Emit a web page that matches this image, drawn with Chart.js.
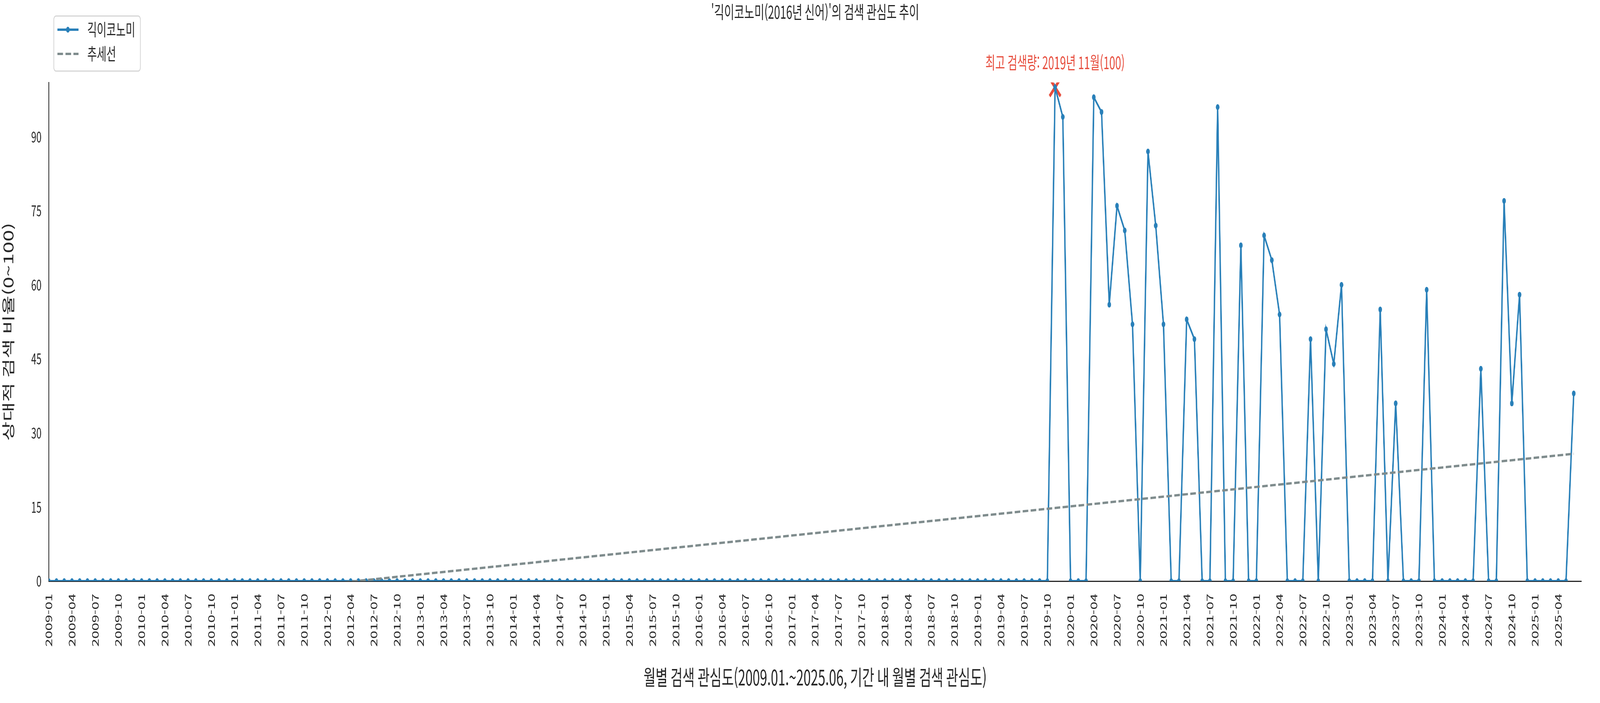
<!DOCTYPE html>
<html lang="ko">
<head>
<meta charset="utf-8">
<script src="https://cdn.jsdelivr.net/npm/chart.js@4.4.1/dist/chart.umd.min.js"></script>
<style>
  html, body { margin: 0; padding: 0; background: #fff; overflow: hidden; }
  #wrap { width: 6600px; height: 1800px; transform-origin: 0 0; }
</style>
</head>
<body>
<div id="wrap"><canvas id="chart" width="6600" height="1800"></canvas></div>
<script>
// Monthly relative search interest, 2009-01 .. 2025-06 (one row per year)
const interest = [
  0, 0, 0, 0, 0, 0, 0, 0, 0, 0, 0, 0,        // 2009
  0, 0, 0, 0, 0, 0, 0, 0, 0, 0, 0, 0,        // 2010
  0, 0, 0, 0, 0, 0, 0, 0, 0, 0, 0, 0,        // 2011
  0, 0, 0, 0, 0, 0, 0, 0, 0, 0, 0, 0,        // 2012
  0, 0, 0, 0, 0, 0, 0, 0, 0, 0, 0, 0,        // 2013
  0, 0, 0, 0, 0, 0, 0, 0, 0, 0, 0, 0,        // 2014
  0, 0, 0, 0, 0, 0, 0, 0, 0, 0, 0, 0,        // 2015
  0, 0, 0, 0, 0, 0, 0, 0, 0, 0, 0, 0,        // 2016
  0, 0, 0, 0, 0, 0, 0, 0, 0, 0, 0, 0,        // 2017
  0, 0, 0, 0, 0, 0, 0, 0, 0, 0, 0, 0,        // 2018
  0, 0, 0, 0, 0, 0, 0, 0, 0, 0, 100, 94,     // 2019
  0, 0, 0, 98, 95, 56, 76, 71, 52, 0, 87, 72, // 2020
  52, 0, 0, 53, 49, 0, 0, 96, 0, 0, 68, 0,   // 2021
  0, 70, 65, 54, 0, 0, 0, 49, 0, 51, 44, 60, // 2022
  0, 0, 0, 0, 55, 0, 36, 0, 0, 0, 59, 0,     // 2023
  0, 0, 0, 0, 0, 43, 0, 0, 77, 36, 58, 0,    // 2024
  0, 0, 0, 0, 0, 38                          // 2025
];

// trend line ends (value at first month, value at last month)
const trendEnds = [-6.5, 25.8];

const seriesNames = ['긱이코노미', '추세선'];
const chartTitle = "'긱이코노미(2016년 신어)'의 검색 관심도 추이";
const xTitle = '월별 검색 관심도(2009.01.~2025.06, 기간 내 월별 검색 관심도)';
const yTitle = '상대적 검색 비율(0~100)';
const yTickStep = 15;
const xTickStep = 3;

// month labels
const months = [];
for (let i = 0; i < interest.length; i++) {
    const y = 2009 + Math.floor(i / 12);
    const m = (i % 12) + 1;
    months.push(y + '-' + String(m).padStart(2, '0'));
}

const peakIdx = interest.indexOf(Math.max(...interest));
const peakLabel = (() => {
    const [yy, mm] = months[peakIdx].split('-');
    return `최고 검색량: ${yy}년 ${parseInt(mm)}월(${interest[peakIdx]})`;
})();

const BLUE = '#2980b9';
const GREY = '#7f8c8d';
const RED = '#e74c3c';
const TEXT = '#262626';
const FONT = "'Noto Sans CJK KR', 'Noto Sans', sans-serif";

// stretch the 6600x1800 drawing over the whole window
const sx = window.innerWidth / 6600, sy = window.innerHeight / 1800;
document.getElementById('wrap').style.transform = 'scale(' + sx + ',' + sy + ')';

Chart.defaults.font.family = FONT;
Chart.defaults.color = TEXT;

// Title, legend box and peak annotation
const extras = {
    id: 'extras',
    afterDraw(chart) {
        const ctx = chart.ctx;
        const area = chart.chartArea;
        const xs = chart.scales.x, ys = chart.scales.y;
        ctx.save();

        // title over the plot area
        ctx.fillStyle = TEXT;
        ctx.font = '45px ' + FONT;
        ctx.textAlign = 'center';
        ctx.textBaseline = 'middle';
        ctx.fillText(chartTitle, (area.left + area.right) / 2, 31);

        // peak annotation
        ctx.fillStyle = RED;
        ctx.font = '44px ' + FONT;
        ctx.fillText(peakLabel, xs.getPixelForValue(peakIdx), ys.getPixelForValue(interest[peakIdx]) - 63);

        // legend
        const bx = 222, by = 41, bw = 357, bh = 141;
        ctx.beginPath();
        ctx.roundRect(bx, by, bw, bh, 9);
        ctx.fillStyle = 'rgba(255,255,255,0.85)';
        ctx.fill();
        ctx.lineWidth = 3;
        ctx.strokeStyle = '#d5d5d5';
        ctx.stroke();

        ctx.font = '43px ' + FONT;
        const ds = chart.data.datasets;
        const rows = [76, 138];
        rows.forEach((ry, k) => {
            const d = ds[k];
            ctx.beginPath();
            ctx.setLineDash(d.borderDash || []);
            ctx.lineWidth = d.borderWidth;
            ctx.strokeStyle = d.borderColor;
            ctx.moveTo(237, ry);
            ctx.lineTo(324, ry);
            ctx.stroke();
            ctx.setLineDash([]);
            if (d.pointRadius) {
                ctx.beginPath();
                ctx.arc(280, ry, d.pointRadius, 0, Math.PI * 2);
                ctx.fillStyle = d.borderColor;
                ctx.fill();
            }
            ctx.fillStyle = TEXT;
            ctx.textAlign = 'left';
            ctx.fillText(d.label, 360, ry);
        });
        ctx.restore();
    }
};

new Chart(document.getElementById('chart'), {
    type: 'line',
    data: {
        datasets: [
            {
                label: seriesNames[0],
                data: interest.map((v, i) => ({ x: i, y: v })),
                borderColor: BLUE,
                backgroundColor: BLUE,
                borderWidth: 6,
                pointRadius: 7.5,
                pointBorderWidth: 0,
                pointBackgroundColor: BLUE,
                tension: 0,
                order: 1
            },
            {
                label: seriesNames[1],
                data: [
                    { x: 0, y: trendEnds[0] },
                    { x: interest.length - 1, y: trendEnds[1] }
                ],
                borderColor: GREY,
                borderWidth: 6,
                borderDash: [23, 10],
                pointRadius: 0,
                tension: 0,
                order: 0
            },
            {
                label: 'peak',
                data: [{ x: peakIdx, y: interest[peakIdx] }],
                showLine: false,
                pointStyle: 'crossRot',
                pointRadius: 32,
                pointBorderWidth: 9,
                pointBorderColor: RED,
                borderColor: RED,
                order: 2
            }
        ]
    },
    options: {
        responsive: false,
        devicePixelRatio: 1,
        animation: false,
        layout: { padding: { top: 211, right: 12, left: 0, bottom: 0 } },
        plugins: {
            legend: { display: false },
            title: { display: false },
            tooltip: { enabled: false }
        },
        scales: {
            x: {
                type: 'linear',
                min: 0,
                max: interest.length,
                grid: { display: false, drawTicks: false },
                border: { display: true, color: TEXT, width: 3 },
                ticks: {
                    stepSize: xTickStep,
                    autoSkip: false,
                    minRotation: 90,
                    maxRotation: 90,
                    padding: 32,
                    color: TEXT,
                    font: { size: 37 },
                    callback: v => months[v] || ''
                },
                title: {
                    display: true,
                    text: xTitle,
                    color: TEXT,
                    font: { size: 54 },
                    padding: { top: 0, bottom: 33 }
                },
                afterFit: s => { s.height = 312; }
            },
            y: {
                min: 0,
                max: 101,
                grid: { display: false, drawTicks: false },
                border: { display: true, color: TEXT, width: 3 },
                ticks: {
                    stepSize: yTickStep,
                    includeBounds: false,
                    padding: 30,
                    color: TEXT,
                    font: { size: 38 }
                },
                title: {
                    display: true,
                    text: yTitle,
                    color: TEXT,
                    font: { size: 54 },
                    padding: { top: 2, bottom: 0 }
                },
                afterFit: s => { s.width = 201; }
            }
        }
    },
    plugins: [extras]
});
</script>
</body>
</html>
